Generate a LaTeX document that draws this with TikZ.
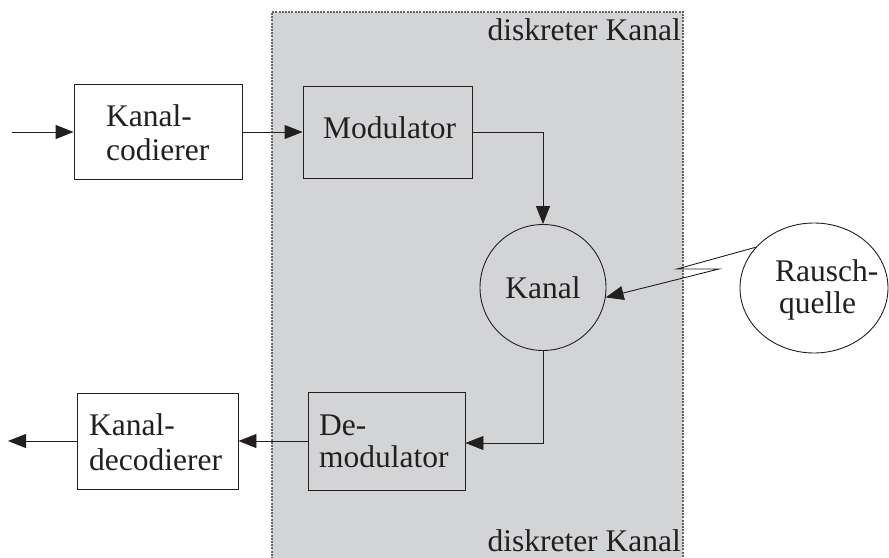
\documentclass[tikz,border=0pt]{standalone}
\usepackage{fontspec}
\setmainfont{Liberation Serif}
\usetikzlibrary{arrows.meta,shapes.geometric}
\definecolor{chan}{RGB}{211,212,214}
\definecolor{ln}{RGB}{35,31,32}
\definecolor{dotc}{RGB}{100,100,100}
\begin{document}
\begin{tikzpicture}[x=1pt,y=-1pt,
  box/.style={draw=ln, line width=0.9pt, inner sep=0pt},
  txt/.style={anchor=base west, inner sep=0pt, font=\fontsize{31.5}{34}\selectfont, text=ln},
  conn/.style={draw=ln, line width=0.9pt, -{Triangle[length=18pt,width=14pt]}}]
\useasboundingbox (0,0) rectangle (889,557);
% discrete channel area
\fill[chan] (272,12) rectangle (683,575);
\draw[dotc, dash pattern=on 2pt off 1.2pt, line width=1.1pt] (272,575) -- (272,12) -- (683,12) -- (683,575);
\node[txt, anchor=base east] (dk1) at (681,40) {diskreter Kanal};
\node[txt, anchor=base east] (dk2) at (681,551) {diskreter Kanal};
% blocks
\node[box, fill=white, minimum width=168pt, minimum height=95pt] (cod) at (158,132) {};
\node[box, minimum width=169pt, minimum height=92pt] (mod) at (387.5,132) {};
\node[box, circle, minimum size=126pt, font=\fontsize{31.5}{34}\selectfont, text=ln] (kanal) at (543,287.5) {Kanal};
\node[box, minimum width=157pt, minimum height=98pt] (demod) at (386.5,441) {};
\node[box, fill=white, minimum width=161pt, minimum height=96pt] (dec) at (157.5,441) {};
\node[box, ellipse, fill=white, minimum width=148pt, minimum height=130pt] (rq) at (814,288) {};
% texts
\node[txt] (t1) at (106,126) {Kanal-};
\node[txt] (t2) at (106,160) {codierer};
\node[txt] (t3) at (323,138) {Modulator};
\node[txt] (t4) at (319,435) {De-};
\node[txt] (t5) at (319,467) {modulator};
\node[txt] (t6) at (89,435) {Kanal-};
\node[txt] (t7) at (89,470) {decodierer};
\node[txt] (t8) at (775,281) {Rausch-};
\node[txt] (t9) at (779,313) {quelle};
% connectors
\coordinate (inp) at (12,132);
\coordinate (outp) at (8,441);
\coordinate (z1) at (677,269);
\coordinate (z2) at (719,269);
\draw[conn] (inp) -- (cod);
\draw[conn] (cod) -- (mod);
\draw[conn] (mod.east) -| (kanal.north);
\draw[conn] (kanal.south) |- ([yshift=-2pt]demod.east);
\draw[conn] (demod) -- (dec);
\draw[conn] (dec) -- (outp);
\draw[conn] (rq.145) -- (z1) -- (z2) -- (kanal.-9);
\end{tikzpicture}
\end{document}
